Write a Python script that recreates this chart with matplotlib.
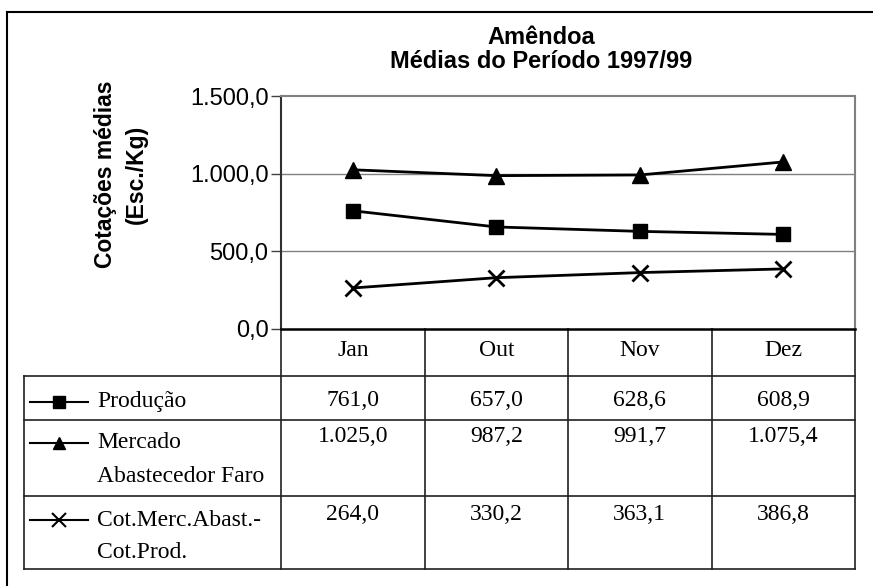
import numpy as np
import matplotlib
matplotlib.use("Agg")
import matplotlib.pyplot as plt
from matplotlib.transforms import blended_transform_factory

# ------------------ Data ------------------
months = ["Jan", "Out", "Nov", "Dez"]
producao = [761.0, 657.0, 628.6, 608.9]
mercado = [1025.0, 987.2, 991.7, 1075.4]
diferenca = [264.0, 330.2, 363.1, 386.8]

series_labels = ["Produção", "Mercado\nAbastecedor Faro", "Cot.Merc.Abast.-\nCot.Prod."]
series_markers = ["s", "^", "x"]
series_values = [producao, mercado, diferenca]

yticks = [0, 500, 1000, 1500]


def fmt_pt(v):
    # portuguese number format: 1.025,0
    s = f"{v:,.1f}"
    return s.replace(",", "X").replace(".", ",").replace("X", ".")


# ------------------ Figure ------------------
W, H = 873, 586
fig = plt.figure(figsize=(W / 100, H / 100), dpi=100)

# overlay axes in pixel coordinates (for frame and table)
ov = fig.add_axes([0, 0, 1, 1])
ov.set_xlim(0, W)
ov.set_ylim(H, 0)
ov.axis("off")

# outer chart frame (only top and left visible)
ov.plot([7, W], [12, 12], color="black", lw=1.5)
ov.plot([7, 7], [12, H], color="black", lw=1.5)

# plot area
x0, x1, y0, y1 = 281, 855, 96, 329
ax = fig.add_axes([x0 / W, 1 - y1 / H, (x1 - x0) / W, (y1 - y0) / H])
x = np.arange(len(months))
ax.set_xlim(-0.5, len(months) - 0.5)
ax.set_ylim(0, 1500)

for vals, mk in zip(series_values, series_markers):
    if mk == "x":
        ax.plot(x, vals, color="black", lw=2, marker=mk, ms=11, mew=2, clip_on=False)
    elif mk == "s":
        ax.plot(x, vals, color="black", lw=2, marker=mk, ms=10, clip_on=False)
    else:
        ax.plot(x, vals, color="black", lw=2, marker=mk, ms=11, clip_on=False)

ax.set_yticks(yticks)
ax.set_yticklabels([fmt_pt(v) for v in yticks], fontsize=17, family="Liberation Sans")
ax.tick_params(axis="y", direction="out", length=7, width=1, color="#404040", pad=2)
ax.set_xticks([])
for v in yticks[1:-1]:
    ax.axhline(v, color="#808080", lw=1, zorder=0)
ax.spines["left"].set_color("#303030")
ax.spines["left"].set_linewidth(1.5)
ax.spines["bottom"].set_color("black")
ax.spines["bottom"].set_linewidth(1.8)
ax.spines["top"].set_color("#808080")
ax.spines["top"].set_linewidth(1.5)
ax.spines["right"].set_color("#808080")
ax.spines["right"].set_linewidth(1.5)
ax.patch.set_alpha(0)

# title and y label
ov.text(541, 37, "Amêndoa", ha="center", va="center", fontsize=17,
        fontweight="bold", family="Liberation Sans")
ov.text(541, 61, "Médias do Período 1997/99", ha="center", va="center", fontsize=17,
        fontweight="bold", family="Liberation Sans")
ov.text(121, 174, "Cotações médias\n(Esc./Kg)", ha="center", va="center", rotation=90,
        fontsize=16.5, fontweight="bold", family="Liberation Sans", linespacing=1.4)

# ------------------ Data table ------------------
tr = blended_transform_factory(ax.transData, ov.transData)
edges = np.arange(len(months) + 1) - 0.5
header_bot = 376
row_tops = [376, 420, 496]
table_bot = 569
tab_left = 24
lc = "#202020"

# vertical lines at category edges (from axis down to table bottom)
for e in edges:
    ov.plot([e, e], [y1, table_bot], color=lc, lw=1.2, transform=tr)
# horizontal lines
for yy in [header_bot] + row_tops[1:] + [table_bot]:
    ov.plot([tab_left, x1], [yy, yy], color=lc, lw=1.2)
ov.plot([tab_left, tab_left], [header_bot, table_bot], color=lc, lw=1.2)

tfont = dict(family="Liberation Serif", fontsize=17)
for i, m in enumerate(months):
    ov.text(i, 351, m, ha="center", va="center", transform=tr, **tfont)

val_off = [24, 17, 18]
lab_off = [26, 23, 24]
for r, (lab, mk, vals) in enumerate(zip(series_labels, series_markers, series_values)):
    top = row_tops[r]
    for i, v in enumerate(vals):
        ov.text(i, top + val_off[r], fmt_pt(v), ha="center", va="center", transform=tr, **tfont)
    ky = top + lab_off[r]
    ov.plot([30, 88], [ky, ky], color="black", lw=1.5)
    if mk == "x":
        ov.plot([59], [ky], marker=mk, color="black", ms=10, mew=1.5)
    else:
        ov.plot([59], [ky], marker=mk, color="black", ms=9)
    lines = lab.split("\n")
    for j, ln in enumerate(lines):
        ov.text(97, ky + j * 33, ln, ha="left", va="center", **tfont)

fig.savefig("out.png", dpi=100)
